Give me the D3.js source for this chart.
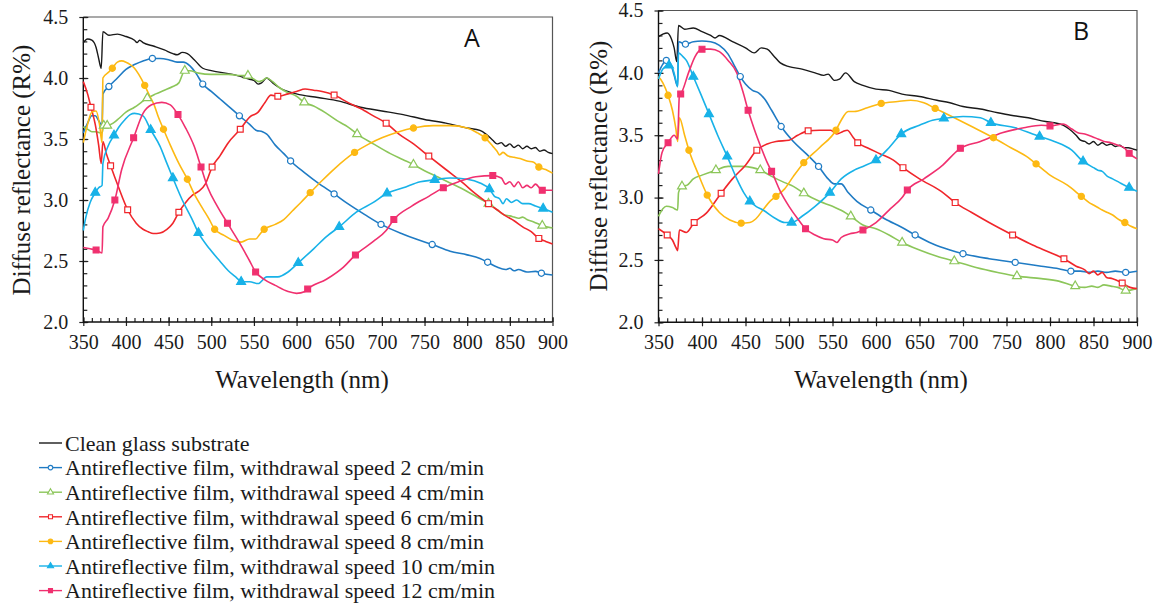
<!DOCTYPE html>
<html>
<head>
<meta charset="utf-8">
<script src="https://cdn.jsdelivr.net/npm/d3@7/dist/d3.min.js"></script>
<style>
  body { margin: 0; background: #fff; }
  svg { display: block; }
</style>
</head>
<body>
<svg id="chart" width="1164" height="605"></svg>
<script>
// ---- tick labels / categories
const wavelengthTicks = [350, 400, 450, 500, 550, 600, 650, 700, 750, 800, 850, 900];
const reflectTicks = [2.0, 2.5, 3.0, 3.5, 4.0, 4.5];
const seriesNames = [
  "Clean glass substrate",
  "Antireflective film, withdrawal speed 2 cm/min",
  "Antireflective film, withdrawal speed 4 cm/min",
  "Antireflective film, withdrawal speed 6 cm/min",
  "Antireflective film, withdrawal speed 8 cm/min",
  "Antireflective film, withdrawal speed 10 cm/min",
  "Antireflective film, withdrawal speed 12 cm/min"
];

// ---- panel A : [wavelength nm, diffuse reflectance %]
const aClean = [[350,4.29],[355,4.32],[360,4.31],[365,4.25],[368,4.16],[371,4.08],[373,4.38],[380,4.35],[390,4.36],[400,4.34],[410,4.31],[413,4.29],[416,4.31],[420,4.29],[433,4.26],[445,4.23],[455,4.20],[460,4.19],[466,4.21],[472,4.20],[480,4.15],[490,4.08],[500,4.06],[525,4.03],[545,3.99],[550,3.98],[555,3.95],[559,3.96],[565,4.00],[572,3.96],[580,3.92],[600,3.87],[625,3.84],[650,3.81],[675,3.76],[700,3.73],[725,3.70],[750,3.66],[775,3.63],[800,3.59],[815,3.57],[822,3.54],[830,3.49],[835,3.46],[840,3.47],[845,3.44],[850,3.46],[855,3.43],[860,3.45],[865,3.42],[870,3.44],[875,3.42],[880,3.43],[885,3.40],[890,3.41],[895,3.39],[900,3.38]];
const aSpeed2 = [[350,3.55],[355,3.63],[360,3.69],[364,3.69],[368,3.65],[372,3.61],[373,3.87],[380,3.93],[390,4.00],[400,4.07],[410,4.11],[420,4.14],[431,4.16],[440,4.16],[450,4.15],[460,4.13],[467,4.13],[475,4.10],[482,4.04],[490,3.95],[500,3.89],[510,3.83],[520,3.77],[533,3.69],[545,3.62],[553,3.57],[560,3.56],[565,3.54],[575,3.45],[585,3.38],[593,3.32],[610,3.22],[625,3.14],[644,3.05],[660,2.97],[680,2.88],[699,2.80],[725,2.72],[740,2.68],[759,2.635],[780,2.58],[800,2.55],[815,2.52],[824,2.49],[835,2.45],[845,2.43],[850,2.44],[855,2.42],[860,2.43],[870,2.41],[880,2.415],[887,2.40],[900,2.385]];
const aSpeed4 = [[350,3.60],[355,3.58],[360,3.56],[365,3.56],[370,3.55],[372,3.55],[374,3.61],[378,3.61],[385,3.63],[392,3.67],[400,3.72],[410,3.76],[418,3.80],[425,3.835],[435,3.87],[445,3.90],[455,3.93],[462,3.96],[469,4.06],[475,4.06],[485,4.04],[500,4.03],[520,4.03],[535,4.02],[543,4.02],[550,3.99],[556,3.97],[560,3.98],[565,4.00],[572,3.97],[580,3.92],[590,3.88],[600,3.85],[609,3.80],[620,3.77],[635,3.71],[650,3.64],[660,3.60],[671,3.54],[690,3.46],[710,3.38],[725,3.33],[737,3.29],[750,3.24],[765,3.19],[780,3.14],[800,3.07],[815,3.01],[825,2.97],[835,2.92],[843,2.88],[850,2.87],[855,2.86],[860,2.85],[865,2.86],[870,2.84],[878,2.82],[888,2.79],[900,2.77]];
const aSpeed6 = [[350,3.97],[355,3.87],[359,3.76],[364,3.62],[368,3.45],[371,3.30],[373,3.48],[377,3.38],[382,3.28],[391,3.11],[402,2.92],[412,2.81],[420,2.76],[426,2.74],[432,2.725],[440,2.73],[448,2.76],[455,2.81],[462,2.90],[470,2.98],[478,3.04],[485,3.07],[493,3.13],[501,3.27],[510,3.36],[520,3.47],[534,3.58],[545,3.68],[555,3.72],[563,3.80],[570,3.86],[578,3.85],[590,3.87],[600,3.89],[610,3.91],[620,3.90],[630,3.89],[644,3.86],[660,3.80],[675,3.75],[690,3.69],[705,3.63],[720,3.54],[735,3.47],[755,3.36],[775,3.25],[795,3.14],[810,3.05],[825,2.97],[835,2.92],[845,2.87],[855,2.83],[865,2.78],[875,2.74],[884,2.685],[892,2.66],[900,2.64]];
const aSpeed8 = [[350,3.47],[355,3.62],[360,3.72],[365,3.73],[369,3.62],[372,3.47],[373,4.00],[380,4.05],[384,4.08],[390,4.13],[395,4.14],[400,4.13],[405,4.11],[410,4.08],[415,4.03],[422,3.94],[428,3.85],[433,3.78],[438,3.68],[444,3.58],[452,3.45],[462,3.30],[472,3.17],[480,3.05],[490,2.93],[497,2.85],[504,2.76],[515,2.71],[525,2.67],[535,2.655],[545,2.68],[552,2.68],[557,2.72],[562,2.76],[575,2.80],[585,2.84],[595,2.91],[605,2.98],[616,3.06],[630,3.16],[645,3.26],[668,3.39],[685,3.46],[700,3.51],[720,3.56],[737,3.59],[760,3.61],[780,3.61],[800,3.59],[812,3.55],[821,3.51],[830,3.44],[835,3.40],[838,3.37],[842,3.39],[848,3.36],[855,3.35],[862,3.34],[870,3.32],[878,3.31],[884,3.27],[892,3.25],[900,3.22]];
const aSpeed10 = [[350,2.75],[353,2.86],[358,2.98],[364,3.06],[368,3.10],[372,3.12],[373,3.30],[379,3.44],[386,3.53],[392,3.60],[399,3.66],[405,3.70],[410,3.71],[420,3.69],[429,3.575],[440,3.44],[448,3.30],[455,3.18],[466,3.00],[477,2.85],[485,2.73],[498,2.60],[510,2.50],[520,2.42],[530,2.36],[535,2.33],[545,2.33],[555,2.315],[565,2.37],[578,2.37],[590,2.41],[602,2.485],[620,2.60],[635,2.70],[650,2.78],[670,2.90],[690,2.98],[706,3.055],[725,3.10],[745,3.15],[762,3.165],[780,3.18],[800,3.17],[815,3.14],[826,3.09],[832,3.03],[838,3.01],[842,2.97],[846,3.01],[852,2.98],[858,3.00],[865,2.97],[872,2.97],[880,2.95],[889,2.93],[900,2.90]];
const aSpeed12 = [[350,2.61],[358,2.60],[365,2.59],[372,2.565],[373,2.78],[379,2.85],[387,3.00],[395,3.25],[409,3.51],[420,3.71],[430,3.78],[442,3.80],[452,3.78],[461,3.70],[470,3.59],[480,3.44],[488,3.27],[496,3.10],[507,2.95],[519,2.81],[533,2.65],[545,2.50],[552,2.41],[562,2.35],[575,2.30],[590,2.25],[600,2.235],[610,2.25],[613,2.27],[635,2.35],[655,2.45],[669,2.55],[690,2.66],[705,2.75],[714,2.84],[735,2.95],[755,3.03],[772,3.10],[790,3.15],[810,3.19],[830,3.20],[840,3.18],[845,3.13],[850,3.15],[855,3.11],[860,3.15],[865,3.10],[870,3.12],[875,3.10],[880,3.13],[888,3.08],[900,3.08]];

// marker wavelengths, panel A
const aMarks2 = [380,431,490,533,593,644,699,759,824,887];
const aMarks4 = [374,378,425,469,543,609,671,737,825,888];
const aMarks6 = [359,382,402,462,501,534,578,644,705,755,825,884];
const aMarks8 = [384,422,444,472,504,562,616,668,737,821,884];
const aMarks10 = [364,386,429,455,485,535,602,650,706,762,826,889];
const aMarks12 = [365,387,409,461,488,519,552,613,669,714,772,830,888];

// ---- panel B
const bClean = [[350,4.29],[355,4.31],[360,4.32],[365,4.27],[368,4.20],[371,4.09],[373,4.38],[380,4.35],[390,4.36],[400,4.33],[410,4.30],[415,4.28],[420,4.30],[435,4.25],[450,4.20],[460,4.16],[468,4.20],[475,4.19],[482,4.14],[490,4.08],[500,4.05],[515,4.03],[530,4.00],[540,3.98],[545,3.99],[552,3.94],[558,3.95],[565,4.00],[575,3.93],[585,3.90],[600,3.87],[615,3.86],[630,3.83],[650,3.81],[670,3.78],[685,3.76],[700,3.73],[720,3.71],[740,3.68],[755,3.66],[775,3.64],[795,3.61],[805,3.60],[815,3.58],[822,3.55],[830,3.50],[835,3.46],[840,3.45],[845,3.43],[850,3.45],[855,3.42],[860,3.44],[865,3.42],[870,3.43],[875,3.41],[880,3.42],[885,3.40],[890,3.40],[895,3.39],[900,3.38]];
const bSpeed2 = [[350,4.00],[355,4.07],[359,4.10],[364,4.07],[368,3.98],[372,3.89],[373,4.25],[381,4.23],[390,4.25],[400,4.255],[410,4.25],[420,4.22],[430,4.15],[437,4.06],[444,3.97],[450,3.91],[458,3.86],[465,3.84],[472,3.79],[480,3.70],[491,3.57],[505,3.45],[520,3.35],[534,3.25],[545,3.15],[552,3.11],[560,3.11],[568,3.04],[578,2.97],[594,2.90],[610,2.83],[630,2.76],[645,2.70],[665,2.63],[685,2.58],[700,2.55],[730,2.51],[760,2.48],[790,2.45],[810,2.43],[824,2.41],[835,2.41],[845,2.40],[855,2.41],[865,2.40],[875,2.41],[887,2.40],[900,2.41]];
const bSpeed4 = [[350,2.85],[355,2.91],[359,2.93],[366,2.92],[372,2.90],[373,3.04],[377,3.09],[383,3.10],[390,3.15],[400,3.18],[416,3.22],[430,3.25],[445,3.25],[458,3.24],[467,3.22],[480,3.17],[495,3.12],[505,3.09],[517,3.035],[535,2.97],[550,2.93],[562,2.89],[571,2.85],[585,2.78],[600,2.75],[615,2.70],[630,2.64],[650,2.58],[670,2.53],[690,2.49],[715,2.44],[740,2.40],[762,2.37],[790,2.35],[810,2.33],[829,2.29],[840,2.28],[848,2.29],[855,2.28],[862,2.30],[870,2.29],[878,2.28],[887,2.255],[900,2.27]];
const bSpeed6 = [[350,2.75],[360,2.70],[366,2.66],[370,2.60],[372,2.575],[374,2.74],[382,2.72],[391,2.80],[405,2.875],[422,3.035],[435,3.15],[450,3.26],[463,3.38],[475,3.43],[485,3.45],[500,3.46],[510,3.50],[522,3.535],[535,3.54],[548,3.54],[555,3.51],[562,3.53],[567,3.54],[573,3.49],[579,3.44],[590,3.40],[605,3.35],[620,3.30],[631,3.24],[650,3.15],[675,3.05],[691,2.96],[710,2.88],[730,2.80],[757,2.70],[780,2.62],[800,2.56],[816,2.51],[830,2.45],[840,2.42],[845,2.39],[850,2.41],[855,2.38],[860,2.40],[865,2.36],[872,2.35],[883,2.315],[892,2.28],[900,2.27]];
const bSpeed8 = [[350,3.97],[355,3.92],[361,3.82],[366,3.70],[370,3.55],[372,3.45],[374,3.64],[380,3.50],[385,3.38],[395,3.20],[406,3.02],[420,2.88],[432,2.82],[445,2.795],[455,2.80],[462,2.83],[470,2.90],[478,2.97],[485,3.01],[495,3.07],[505,3.17],[517,3.28],[535,3.40],[554,3.54],[560,3.62],[568,3.69],[575,3.69],[590,3.72],[606,3.755],[625,3.77],[640,3.78],[655,3.76],[668,3.715],[690,3.64],[710,3.57],[735,3.48],[755,3.40],[775,3.32],[784,3.27],[800,3.18],[820,3.10],[836,3.01],[845,2.96],[850,2.94],[855,2.92],[860,2.90],[866,2.88],[872,2.86],[880,2.82],[886,2.80],[893,2.77],[900,2.75]];
const bSpeed10 = [[350,3.95],[355,4.03],[362,4.06],[366,4.04],[370,3.94],[372,3.89],[373,4.16],[378,4.13],[382,4.10],[390,3.97],[398,3.84],[408,3.67],[418,3.50],[429,3.33],[440,3.15],[448,3.04],[455,2.97],[462,2.93],[470,2.90],[485,2.83],[495,2.80],[503,2.80],[515,2.85],[530,2.93],[547,3.04],[560,3.15],[575,3.22],[585,3.25],[600,3.30],[615,3.40],[629,3.51],[650,3.58],[665,3.62],[678,3.635],[700,3.65],[720,3.64],[732,3.60],[760,3.56],[780,3.51],[788,3.49],[805,3.45],[825,3.38],[838,3.29],[845,3.26],[850,3.24],[855,3.22],[860,3.21],[866,3.17],[872,3.15],[880,3.12],[891,3.08],[900,3.05]];
const bSpeed12 = [[350,3.19],[354,3.36],[361,3.44],[368,3.50],[372,3.47],[374,3.82],[375.5,3.83],[385,4.01],[392,4.13],[400,4.19],[410,4.19],[420,4.17],[430,4.10],[440,4.00],[447,3.85],[453,3.70],[460,3.55],[468,3.40],[475,3.28],[480,3.21],[490,3.05],[500,2.93],[510,2.83],[519,2.75],[530,2.70],[540,2.67],[550,2.66],[555,2.64],[560,2.68],[570,2.71],[578,2.72],[585,2.74],[600,2.80],[615,2.90],[630,3.00],[636,3.06],[655,3.15],[675,3.25],[697,3.395],[720,3.45],[745,3.52],[770,3.56],[790,3.58],[800,3.575],[815,3.59],[825,3.55],[832,3.52],[840,3.51],[848,3.49],[855,3.47],[862,3.45],[870,3.44],[878,3.42],[885,3.40],[891,3.355],[900,3.31]];

const bMarks2 = [359,381,444,491,534,594,645,700,760,824,887];
const bMarks4 = [377,416,467,517,571,630,690,762,829,887];
const bMarks6 = [360,391,422,463,522,579,631,691,757,816,883];
const bMarks8 = [361,385,406,445,485,517,554,606,668,735,784,836,886];
const bMarks10 = [362,390,408,429,455,503,547,600,629,678,732,788,838,891];
const bMarks12 = [361,375.5,400,453,480,519,585,636,697,800,891];

// ---- styles (one per series, same order as seriesNames)
const seriesColors = ["#1a1a1a", "#1f7bc4", "#8cc65a", "#f0262b", "#fdb913", "#18b2e8", "#f0306f"];
const seriesShapes = [null, "circle", "triangle", "square", "circle", "triangle", "square"];
const seriesFilled = [false, false, false, false, true, true, true];

const svg = d3.select("#chart").attr("font-family", "Liberation Serif");
svg.append("rect").attr("width", 1164).attr("height", 605).attr("fill", "#fff");

const symbolType = { circle: d3.symbolCircle, triangle: d3.symbolTriangle, square: d3.symbolSquare };
const symbolSize = { circle: 30, triangle: 34, square: 34 };

function drawPanel(p) {
  const x = d3.scaleLinear().domain([350, 900]).range([p.left, p.right]);
  const y = d3.scaleLinear().domain([2, 4.5]).range([p.bottom, p.top]);
  const g = svg.append("g");

  // top & right frame
  g.append("path")
    .attr("d", `M${p.left},${p.top}H${p.right}V${p.bottom}`)
    .attr("fill", "none").attr("stroke", "#555").attr("stroke-width", 1.2);

  const cleanAxis = sel => {
    sel.attr("font-family", "Liberation Serif").attr("font-size", 20);
    sel.select(".domain").remove();
    sel.selectAll("line").attr("stroke", "#222").attr("stroke-width", 1.2);
    sel.selectAll("text").attr("fill", "#1a1a1a");
  };

  // x: minor ticks (10 nm), major ticks crossing the axis
  g.append("g").attr("transform", `translate(0,${p.bottom})`)
    .call(d3.axisBottom(x).tickValues(d3.range(350, 901, 10)).tickSize(-4).tickFormat(""))
    .call(cleanAxis);
  g.append("g").attr("transform", `translate(0,${p.bottom - 5})`)
    .call(d3.axisBottom(x).tickValues(wavelengthTicks).tickSize(9).tickFormat(""))
    .call(cleanAxis);
  g.append("g").attr("transform", `translate(0,${p.bottom})`)
    .call(d3.axisBottom(x).tickValues(wavelengthTicks).tickSize(0).tickPadding(13))
    .call(cleanAxis);

  // y: minor ticks (0.1), major ticks crossing
  g.append("g").attr("transform", `translate(${p.left},0)`)
    .call(d3.axisLeft(y).tickValues(d3.range(20, 46, 1).map(v => v / 10)).tickSize(-4).tickFormat(""))
    .call(cleanAxis);
  g.append("g").attr("transform", `translate(${p.left + 5},0)`)
    .call(d3.axisLeft(y).tickValues(reflectTicks).tickSize(9).tickFormat(""))
    .call(cleanAxis);
  g.append("g").attr("transform", `translate(${p.left},0)`)
    .call(d3.axisLeft(y).tickValues(reflectTicks).tickSize(0).tickPadding(15).tickFormat(d3.format(".1f")))
    .call(cleanAxis);

  // axis lines
  g.append("path")
    .attr("d", `M${p.left},${p.top}V${p.bottom}H${p.right}`)
    .attr("fill", "none").attr("stroke", "#111").attr("stroke-width", 1.4);

  // titles
  g.append("text").attr("x", p.xTitleX).attr("y", p.xTitleY)
    .attr("text-anchor", "middle").attr("font-family", "Liberation Serif").attr("font-size", 25)
    .attr("fill", "#1a1a1a").text("Wavelength (nm)");
  g.append("text").attr("transform", `translate(${p.yTitleX},${p.yTitleY}) rotate(-90)`)
    .attr("text-anchor", "middle").attr("dominant-baseline", "central")
    .attr("font-family", "Liberation Serif").attr("font-size", 25).attr("fill", "#1a1a1a")
    .text("Diffuse reflectance (R%)");

  g.append("text").attr("x", p.letterX).attr("y", p.letterY).attr("text-anchor", "middle")
    .attr("font-family", "Open Sans").attr("font-size", 25)
    .attr("fill", "#111").text(p.letter);

  const line = d3.line().x(d => x(d[0])).y(d => y(d[1])).curve(d3.curveMonotoneX);

  p.series.forEach((s, i) => {
    g.append("path").datum(s)
      .attr("d", line).attr("fill", "none")
      .attr("stroke", seriesColors[i]).attr("stroke-width", i === 0 ? 1.4 : 1.6)
      .attr("stroke-linejoin", "round");
  });

  p.series.forEach((s, i) => {
    if (!seriesShapes[i]) return;
    const pts = p.marks[i].map(m => s.find(d => d[0] === m)).filter(Boolean);
    g.selectAll(null).data(pts).join("path")
      .attr("transform", d => `translate(${x(d[0])},${y(d[1])})`)
      .attr("d", d3.symbol(symbolType[seriesShapes[i]], symbolSize[seriesShapes[i]]))
      .attr("fill", seriesFilled[i] ? seriesColors[i] : "#fff")
      .attr("stroke", seriesColors[i]).attr("stroke-width", 1.2);
  });
}

drawPanel({
  left: 83.3, right: 552.5, top: 17, bottom: 322,
  xTitleX: 302, xTitleY: 388, yTitleX: 21, yTitleY: 170,
  letter: "A", letterX: 472, letterY: 47,
  series: [aClean, aSpeed2, aSpeed4, aSpeed6, aSpeed8, aSpeed10, aSpeed12],
  marks: [null, aMarks2, aMarks4, aMarks6, aMarks8, aMarks10, aMarks12]
});
drawPanel({
  left: 658.5, right: 1137, top: 10.5, bottom: 322.3,
  xTitleX: 881, xTitleY: 388, yTitleX: 598, yTitleY: 166,
  letter: "B", letterX: 1081, letterY: 40,
  series: [bClean, bSpeed2, bSpeed4, bSpeed6, bSpeed8, bSpeed10, bSpeed12],
  marks: [null, bMarks2, bMarks4, bMarks6, bMarks8, bMarks10, bMarks12]
});

// ---- legend
const legend = svg.append("g");
seriesNames.forEach((name, i) => {
  const row = legend.append("g").attr("transform", `translate(0,${443 + i * 24.6})`);
  row.append("line").attr("x1", 39).attr("x2", 62)
    .attr("stroke", seriesColors[i]).attr("stroke-width", 1.4);
  if (seriesShapes[i]) {
    row.append("path").attr("transform", "translate(50.5,0)")
      .attr("d", d3.symbol(symbolType[seriesShapes[i]], 16)())
      .attr("fill", seriesFilled[i] ? seriesColors[i] : "#fff")
      .attr("stroke", seriesColors[i]).attr("stroke-width", 1.1);
  }
  row.append("text").attr("class", "lg").attr("x", 65).attr("dy", "0.35em")
    .attr("font-family", "Liberation Serif").attr("font-size", 22).attr("fill", "#1a1a1a").text(name);
});
// spread the letters so the longest entry spans like the original
const labels = legend.selectAll("text.lg");
const longest = d3.max(labels.nodes(), n => n.getComputedTextLength());
const longestLen = d3.max(seriesNames, d => d.length);
labels.attr("letter-spacing", Math.max(0, (426 - longest) / (longestLen - 1)));
</script>
</body>
</html>
